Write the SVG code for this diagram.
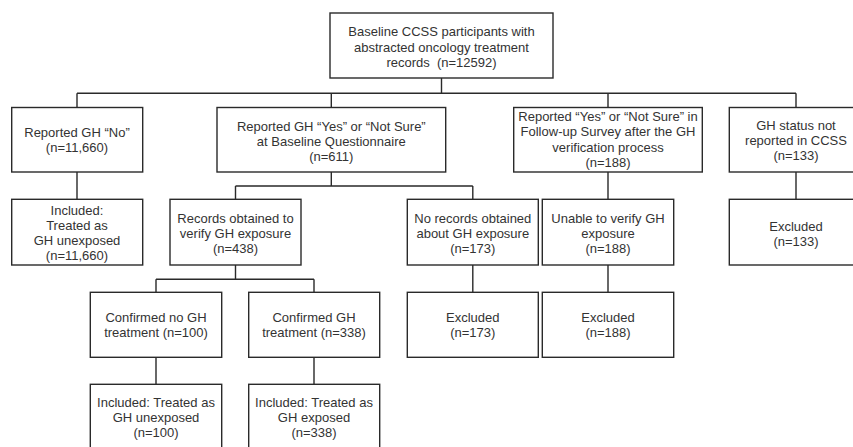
<svg xmlns="http://www.w3.org/2000/svg" width="853" height="447" viewBox="0 0 853 447">
<style>
.b{fill:#fff;stroke:#2a2a2a;stroke-width:1.4}
.c{fill:none;stroke:#2a2a2a;stroke-width:1.4}
text{font-family:"Liberation Sans",Arial,sans-serif;font-size:13px;fill:#333;text-anchor:middle}
.pre{white-space:pre}
</style>
<rect width="853" height="447" fill="#fff"/>
<g id="connectors">
<path class="c" d="M441.5 78V93.3M77 93.3H796M77 93.3V107.5M331.3 93.3V107.5M608 93.3V107.5M796 93.3V107.5"/>
<path class="c" d="M77 172V199.3M331.3 172V186M235.5 186H472.8M235.5 186V199.3M472.8 186V199.3M608 172V199.3M796 172V199.3"/>
<path class="c" d="M235.5 265V279.3M156 279.3H314M156 279.3V292.3M314 279.3V292.3M472.8 265V292.3M608 265V292.3"/>
<path class="c" d="M156 357.3V384.3M314 357.3V384.3"/>
</g>
<g id="n_top"><rect class="b" x="330" y="13" width="223" height="65"/>
<text x="441.5" y="36">Baseline CCSS participants with</text><text x="441.5" y="51.5">abstracted oncology treatment</text><text class="pre" x="441.5" y="67" xml:space="preserve">records  (n=12592)</text></g>
<g id="n_no"><rect class="b" x="11.7" y="107.5" width="131" height="64.5"/>
<text x="77" y="137">Reported GH “No”</text><text x="77" y="152">(n=11,660)</text></g>
<g id="n_yes"><rect class="b" x="217" y="107.5" width="228.7" height="64.5"/>
<text x="331.3" y="130.5">Reported GH “Yes” or “Not Sure”</text><text x="331.3" y="145.5">at Baseline Questionnaire</text><text x="331.3" y="160.5">(n=611)</text></g>
<g id="n_follow"><rect class="b" x="513.7" y="107.5" width="188.6" height="64.5"/>
<text x="608" y="121">Reported “Yes” or “Not Sure” in</text><text x="608" y="136">Follow-up Survey after the GH</text><text x="608" y="151.5">verification process</text><text x="608" y="166.5">(n=188)</text></g>
<g id="n_status"><rect class="b" x="729.3" y="107.5" width="133.4" height="64.5"/>
<text x="796" y="129.5">GH status not</text><text x="796" y="144.5">reported in CCSS</text><text x="796" y="159.5">(n=133)</text></g>
<g id="n_incl1"><rect class="b" x="11.7" y="199.3" width="131" height="65.7"/>
<text x="77" y="214.5">Included:</text><text x="77" y="229.5">Treated as</text><text x="77" y="244.5">GH unexposed</text><text x="77" y="259.5">(n=11,660)</text></g>
<g id="n_records"><rect class="b" x="170" y="199.3" width="131" height="65.7"/>
<text x="235.5" y="222.5">Records obtained to</text><text x="235.5" y="237.5">verify GH exposure</text><text x="235.5" y="252.5">(n=438)</text></g>
<g id="n_norec"><rect class="b" x="407.3" y="199.3" width="131" height="65.7"/>
<text x="472.8" y="222.5">No records obtained</text><text x="472.8" y="237.5">about GH exposure</text><text x="472.8" y="252.5">(n=173)</text></g>
<g id="n_unable"><rect class="b" x="542.3" y="199.3" width="131.4" height="65.7"/>
<text x="608" y="222.5">Unable to verify GH</text><text x="608" y="237.5">exposure</text><text x="608" y="252.5">(n=188)</text></g>
<g id="n_exc133"><rect class="b" x="729.3" y="199.3" width="133.4" height="65.7"/>
<text x="796" y="230.5">Excluded</text><text x="796" y="245.5">(n=133)</text></g>
<g id="n_conf_no"><rect class="b" x="90.3" y="292.3" width="131.4" height="65"/>
<text x="156" y="321.5">Confirmed no GH</text><text x="156" y="336.5">treatment (n=100)</text></g>
<g id="n_conf_yes"><rect class="b" x="248.7" y="292.3" width="131" height="65"/>
<text x="314" y="321.5">Confirmed GH</text><text x="314" y="336.5">treatment (n=338)</text></g>
<g id="n_exc173"><rect class="b" x="407.3" y="292.3" width="131" height="65"/>
<text x="472.8" y="322">Excluded</text><text x="472.8" y="337">(n=173)</text></g>
<g id="n_exc188"><rect class="b" x="542.3" y="292.3" width="131.4" height="65"/>
<text x="608" y="322">Excluded</text><text x="608" y="337">(n=188)</text></g>
<g id="n_incl2"><rect class="b" x="90.3" y="384.3" width="131.4" height="65"/>
<text x="156" y="407">Included: Treated as</text><text x="156" y="422">GH unexposed</text><text x="156" y="437">(n=100)</text></g>
<g id="n_incl3"><rect class="b" x="248.7" y="384.3" width="131" height="65"/>
<text x="314" y="407">Included: Treated as</text><text x="314" y="422">GH exposed</text><text x="314" y="437">(n=338)</text></g>
</svg>
